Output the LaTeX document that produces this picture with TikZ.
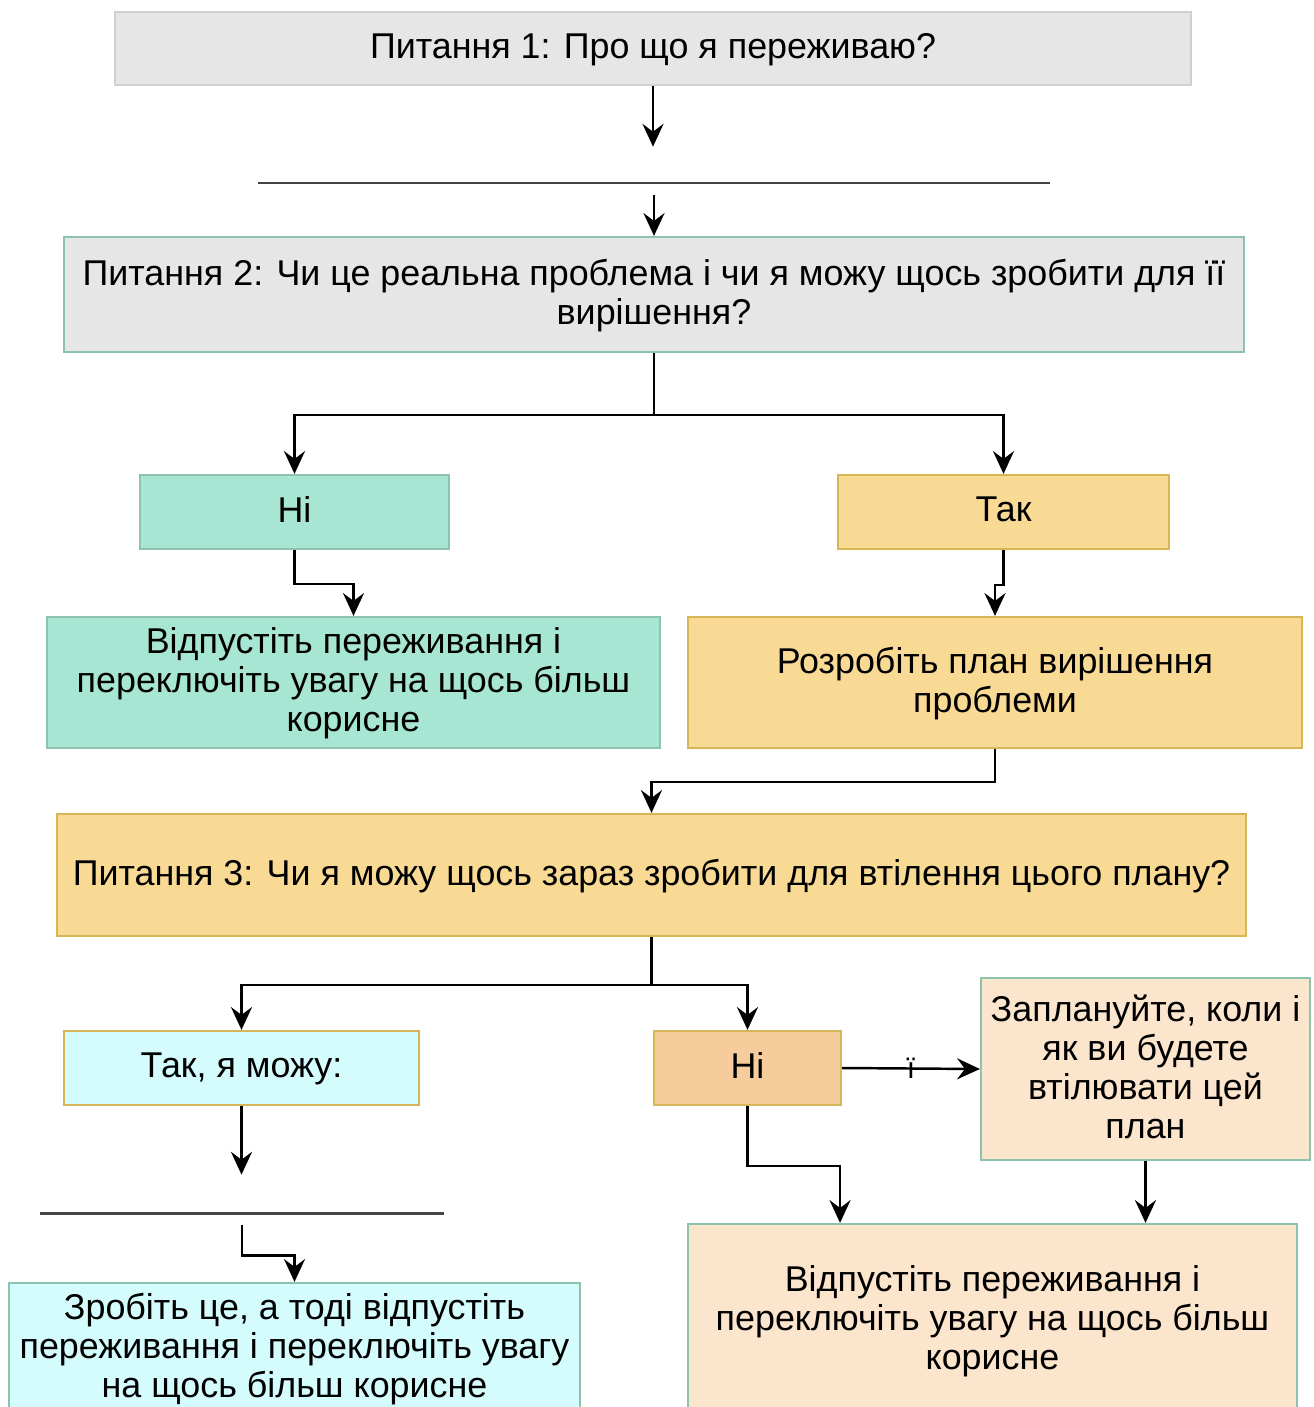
\documentclass[tikz,border=0pt]{standalone}
\usepackage{fontspec}
\setmainfont{Liberation Sans}
\usetikzlibrary{arrows.meta}

\definecolor{grauF}{HTML}{E6E6E6}
\definecolor{grauR}{HTML}{D0D0D0}
\definecolor{tuerkisR}{HTML}{8DC3AC}
\definecolor{mintF}{HTML}{A8E6D4}
\definecolor{gelbF}{HTML}{F9DA94}
\definecolor{gelbR}{HTML}{D6B656}
\definecolor{cyanF}{HTML}{D4FCFC}
\definecolor{orangeF}{HTML}{F6CC9C}
\definecolor{pfirsichF}{HTML}{FBE5CC}
\definecolor{strichgrau}{HTML}{444444}

\tikzset{
  kasten/.style={draw, line width=1.3pt, inner sep=0pt, align=center,
    font=\fontsize{20.4}{22.2}\selectfont, text depth=3pt},
  grau/.style={kasten, fill=grauF, draw=grauR},
  grautuerkis/.style={kasten, fill=grauF, draw=tuerkisR},
  mint/.style={kasten, fill=mintF, draw=tuerkisR},
  gelb/.style={kasten, fill=gelbF, draw=gelbR},
  cyangelb/.style={kasten, fill=cyanF, draw=gelbR},
  cyantuerkis/.style={kasten, fill=cyanF, draw=tuerkisR},
  orange/.style={kasten, fill=orangeF, draw=gelbR},
  pfirsich/.style={kasten, fill=pfirsichF, draw=tuerkisR},
  pfeil/.style={-{Stealth[length=13pt,width=12pt,inset=4.5pt]}, line width=1.4pt},
  leer/.style={inner sep=0pt, minimum height=0.96cm},
  strich/.style={draw=strichgrau, line width=1.3pt}
}

\begin{document}
\begin{tikzpicture}[x=0.02cm,y=-0.02cm]
  \useasboundingbox (0,0) rectangle (1314,1407);

  %Frage 1
  \node[grau, minimum width=21.52cm, minimum height=1.46cm] (frage1) at (653,48.5)
    {Питання 1: Про що я переживаю?};
  \node[leer, minimum width=15.84cm] (leer1) at (654,171) {};
  \draw[strich] ([yshift=0.24cm]leer1.south west) -- ([yshift=0.24cm]leer1.south east);

  %Frage 2
  \node[grautuerkis, minimum width=23.6cm, minimum height=2.3cm] (frage2) at (654,294.5)
    {Питання 2: Чи це реальна проблема і чи я можу щось зробити для її\\вирішення?};

  \node[mint, minimum width=6.18cm, minimum height=1.48cm] (nein1) at (294.5,512) {Ні};
  \node[gelb, minimum width=6.62cm, minimum height=1.48cm] (ja1) at (1003.5,512) {Так};

  \node[mint, minimum width=12.26cm, minimum height=2.62cm] (loslassen1) at (353.5,682.5)
    {Відпустіть переживання і\\переключіть увагу на щось більш\\корисне};
  \node[gelb, minimum width=12.28cm, minimum height=2.62cm] (plan) at (995,682.5)
    {Розробіть план вирішення\\проблеми};

  %Frage 3
  \node[gelb, minimum width=23.78cm, minimum height=2.44cm] (frage3) at (651.5,875)
    {Питання 3: Чи я можу щось зараз зробити для втілення цього плану?};

  \node[cyangelb, minimum width=7.1cm, minimum height=1.48cm] (ja2) at (241.5,1068) {Так, я можу:};
  \node[orange, minimum width=3.74cm, minimum height=1.48cm] (nein2) at (747.5,1068) {Ні};
  \node[pfirsich, minimum width=6.58cm, minimum height=3.64cm] (planen) at (1145.5,1069)
    {Заплануйте, коли і\\як ви будете\\втілювати цей\\план};

  \node[leer, minimum width=8.08cm, minimum height=1cm] (leer2) at (242,1200) {};
  \draw[strich] ([yshift=0.24cm]leer2.south west) -- ([yshift=0.24cm]leer2.south east);

  \node[cyantuerkis, minimum width=11.42cm, minimum height=2.6cm] (tun) at (294.5,1348)
    {Зробіть це, а тоді відпустіть\\переживання і переключіть увагу\\на щось більш корисне};
  \node[pfirsich, minimum width=12.18cm, minimum height=3.84cm] (loslassen2) at (992.5,1320)
    {Відпустіть переживання і\\переключіть увагу на щось більш\\корисне};

  %Pfeile
  \draw[pfeil] (frage1.south) -- (frage1.south |- leer1.north);
  \draw[pfeil] (leer1.south) -- (leer1.south |- frage2.north);
  \draw[pfeil] (frage2.south) -- ++(0,62) -| (nein1.north);
  \draw[pfeil] (frage2.south) -- ++(0,62) -| (ja1.north);
  \draw[pfeil] (nein1.south) -- ++(0,34) -| (loslassen1.north);
  \draw[pfeil] (ja1.south) -- ++(0,35) -| (plan.north);
  \draw[pfeil] (plan.south) -- ++(0,33) -| (frage3.north);
  \draw[pfeil] (frage3.south) -- ++(0,48) -| (ja2.north);
  \draw[pfeil] (frage3.south) -- ++(0,48) -| (nein2.north);
  \draw[pfeil] (nein2.east) -- node[font=\fontsize{17}{17}\selectfont] {ї} (planen.west);
  \draw[pfeil] (ja2.south) -- (ja2.south |- leer2.north);
  \draw[pfeil] (leer2.south) -- ++(0,30) -| (tun.north);
  \draw[pfeil] (nein2.south) -- ++(0,60) -| ([xshift=-3.05cm]loslassen2.north);
  \draw[pfeil] (planen.south) -- (planen.south |- loslassen2.north);
\end{tikzpicture}
\end{document}
